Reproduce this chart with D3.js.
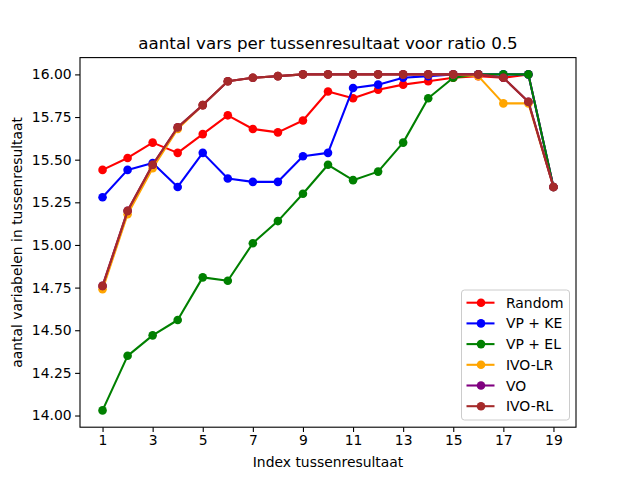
<!DOCTYPE html>
<html>
<head>
<meta charset="utf-8">
<script src="https://cdn.jsdelivr.net/npm/d3@7"></script>
<style>
  html, body { margin: 0; padding: 0; background: #fff; }
  svg { display: block; font-family: "DejaVu Sans", sans-serif; }
</style>
</head>
<body>
<svg width="640" height="480"></svg>
<script>
// values
const indices = d3.range(1, 20);
const random = [15.44, 15.51, 15.60, 15.54, 15.65, 15.76, 15.68, 15.66, 15.73, 15.90,
                15.86, 15.91, 15.94, 15.96, 15.98, 15.99, 15.98, 16.00, 15.34];
const vpKe = [15.28, 15.44, 15.48, 15.34, 15.54, 15.39, 15.37, 15.37, 15.52, 15.54,
              15.92, 15.94, 15.98, 15.99, 16.00, 16.00, 16.00, 16.00, 15.34];
const vpEl = [14.03, 14.35, 14.47, 14.56, 14.81, 14.79, 15.01, 15.14, 15.30, 15.47,
              15.38, 15.43, 15.60, 15.86, 15.98, 16.00, 16.00, 16.00, 15.34];
const ivoLr = [14.74, 15.18, 15.45, 15.68, 15.82, 15.96, 15.98, 15.99, 16.00, 16.00,
               16.00, 16.00, 16.00, 16.00, 16.00, 15.99, 15.83, 15.83, 15.34];
const vo = [14.76, 15.20, 15.47, 15.69, 15.82, 15.96, 15.98, 15.99, 16.00, 16.00,
            16.00, 16.00, 16.00, 16.00, 16.00, 16.00, 15.98, 15.84, 15.34];
const ivoRl = [14.76, 15.20, 15.47, 15.69, 15.82, 15.96, 15.98, 15.99, 16.00, 16.00,
               16.00, 16.00, 16.00, 16.00, 16.00, 16.00, 15.98, 15.84, 15.34];
const xTicks = [1, 3, 5, 7, 9, 11, 13, 15, 17, 19];
const yTicks = [14.00, 14.25, 14.50, 14.75, 15.00, 15.25, 15.50, 15.75, 16.00];

const series = [
  { name: "Random", values: random, color: "red" },
  { name: "VP + KE", values: vpKe, color: "blue" },
  { name: "VP + EL", values: vpEl, color: "green" },
  { name: "IVO-LR", values: ivoLr, color: "orange" },
  { name: "VO", values: vo, color: "purple" },
  { name: "IVO-RL", values: ivoRl, color: "brown" }
];

const margin = { top: 57.6, right: 64, bottom: 52.8, left: 80 };
const width = 640, height = 480;
const innerWidth = width - margin.left - margin.right;
const innerHeight = height - margin.top - margin.bottom;

const svg = d3.select("svg");
const g = svg.append("g").attr("transform", `translate(${margin.left},${margin.top})`);

// matplotlib-like 5% padding
const allVals = series.flatMap(s => s.values);
const yMin = d3.min(allVals), yMax = d3.max(allVals);
const yPad = (yMax - yMin) * 0.05;
const xPad = (19 - 1) * 0.05;

const x = d3.scaleLinear().domain([1 - xPad, 19 + xPad]).range([0, innerWidth]);
const y = d3.scaleLinear().domain([yMin - yPad, yMax + yPad]).range([innerHeight, 0]);

const xAxis = g.append("g")
  .attr("transform", `translate(0,${innerHeight})`)
  .call(d3.axisBottom(x).tickValues(xTicks).tickFormat(d3.format("d")).tickSize(4.9).tickPadding(3.5));
const yAxis = g.append("g")
  .call(d3.axisLeft(y).tickValues(yTicks).tickFormat(d3.format(".2f")).tickSize(4.9).tickPadding(3.5));

[xAxis, yAxis].forEach(a => {
  a.select(".domain").remove();
  a.selectAll("line").attr("stroke", "#000").attr("stroke-width", 1.1);
  a.selectAll("text").attr("font-size", 13.9).attr("fill", "#000")
    .attr("font-family", "DejaVu Sans, sans-serif");
});

const line = d3.line().x((d, i) => x(indices[i])).y(d => y(d));

series.forEach(s => {
  const sg = g.append("g");
  sg.append("path")
    .datum(s.values)
    .attr("d", line)
    .attr("fill", "none")
    .attr("stroke", s.color)
    .attr("stroke-width", 2.08)
    .attr("stroke-linejoin", "round");
  sg.selectAll("circle")
    .data(s.values)
    .join("circle")
    .attr("cx", (d, i) => x(indices[i]))
    .attr("cy", d => y(d))
    .attr("r", 4.3)
    .attr("fill", s.color);
});

// frame
g.append("rect")
  .attr("width", innerWidth).attr("height", innerHeight)
  .attr("fill", "none").attr("stroke", "#000").attr("stroke-width", 1.1);

// title and labels
svg.append("text")
  .attr("x", margin.left + innerWidth / 2).attr("y", 49)
  .attr("text-anchor", "middle").attr("font-size", 16.7)
  .text("aantal vars per tussenresultaat voor ratio 0.5");
svg.append("text")
  .attr("x", margin.left + innerWidth / 2).attr("y", 467)
  .attr("text-anchor", "middle").attr("font-size", 13.9)
  .text("Index tussenresultaat");
svg.append("text")
  .attr("transform", `translate(22,${margin.top + innerHeight / 2}) rotate(-90)`)
  .attr("text-anchor", "middle").attr("font-size", 13.9)
  .text("aantal variabelen in tussenresultaat");

// legend
const lg = svg.append("g").attr("transform", "translate(461.5,290)");
lg.append("rect")
  .attr("width", 108).attr("height", 130).attr("rx", 3)
  .attr("fill", "#fff").attr("fill-opacity", 0.8)
  .attr("stroke", "#ccc").attr("stroke-width", 1);
series.forEach((s, i) => {
  const yy = 12.7 + i * 20.7;
  lg.append("line").attr("x1", 5).attr("x2", 33).attr("y1", yy).attr("y2", yy)
    .attr("stroke", s.color).attr("stroke-width", 2.08);
  lg.append("circle").attr("cx", 19.5).attr("cy", yy).attr("r", 4.3).attr("fill", s.color);
  lg.append("text").attr("x", 44.5).attr("y", yy + 5).attr("font-size", 13.9).text(s.name);
});
</script>
</body>
</html>
